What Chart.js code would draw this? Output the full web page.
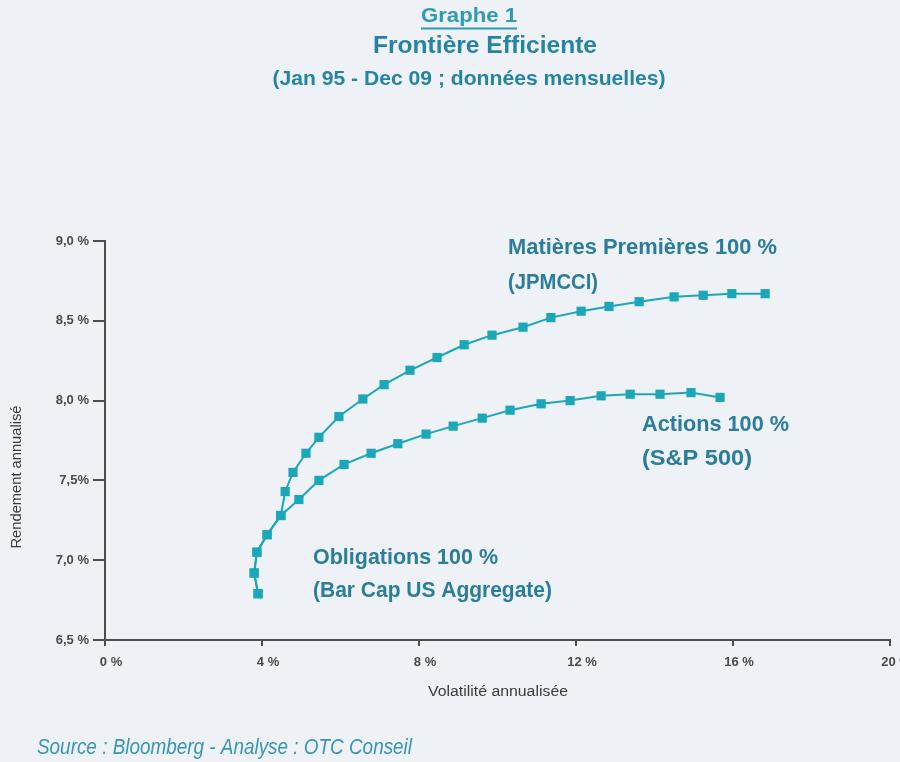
<!DOCTYPE html>
<html lang="fr">
<head>
<meta charset="utf-8">
<title>Frontière Efficiente</title>
<script src="https://cdn.jsdelivr.net/npm/chart.js@4.4.1/dist/chart.umd.min.js"></script>
<style>
  html, body { margin: 0; padding: 0; background: #eef1f5; }
  #wrap { width: 900px; height: 762px; position: relative; }
</style>
</head>
<body>
<div id="wrap"><canvas id="chart" width="900" height="762"></canvas></div>
<script>
// Commodities-weighted frontier (ends at 100 % JPMCCI)
const commoVol = [3.90, 3.80, 3.87, 4.13, 4.48, 4.59, 4.79, 5.12, 5.45, 5.96, 6.57, 7.11, 7.77, 8.46, 9.15, 9.86, 10.65, 11.36, 12.13, 12.84, 13.61, 14.50, 15.24, 15.97, 16.82];
const commoRet = [6.79, 6.92, 7.05, 7.16, 7.28, 7.43, 7.55, 7.67, 7.77, 7.90, 8.01, 8.10, 8.19, 8.27, 8.35, 8.41, 8.46, 8.52, 8.56, 8.59, 8.62, 8.65, 8.66, 8.67, 8.67];

// Equities-weighted frontier (ends at 100 % S&P 500)
const equityVol = [3.90, 3.80, 3.87, 4.13, 4.48, 4.94, 5.45, 6.09, 6.78, 7.46, 8.18, 8.87, 9.61, 10.32, 11.11, 11.85, 12.64, 13.38, 14.14, 14.93, 15.67];
const equityRet = [6.79, 6.92, 7.05, 7.16, 7.28, 7.38, 7.50, 7.60, 7.67, 7.73, 7.79, 7.84, 7.89, 7.94, 7.98, 8.00, 8.03, 8.04, 8.04, 8.05, 8.02];

// Axis tick labels
const xTickLabels = ['0 %', '4 %', '8 %', '12 %', '16 %', '20 %'];
const yTickLabels = ['6,5 %', '7,0 %', '7,5%', '8,0 %', '8,5 %', '9,0 %'];

// Texts
const titleLines = ['Graphe 1', 'Frontière Efficiente', '(Jan 95 - Dec 09 ; données mensuelles)'];
const commoLabel = ['Matières Premières 100 %', '(JPMCCI)'];
const equityLabel = ['Actions 100 %', '(S&P 500)'];
const bondLabel = ['Obligations 100 %', '(Bar Cap US Aggregate)'];
const xTitle = 'Volatilité annualisée';
const yTitle = 'Rendement annualisé';
const sourceText = 'Source : Bloomberg - Analyse : OTC Conseil';

const FONT = "'Liberation Sans Narrow', 'Arial Narrow', 'Liberation Sans', Arial, sans-serif";
const SANS = "'Liberation Sans', Arial, sans-serif";
const TEAL = '#1ba7b8';
const AXIS = '#4d4d4d';

const toPoints = (xs, ys) => xs.map((x, i) => ({ x: x, y: ys[i] }));

// Draws text squeezed horizontally so it spans the given width
function fitText(ctx, text, x, y, width, align) {
  const w = ctx.measureText(text).width;
  ctx.save();
  ctx.translate(x, y);
  ctx.scale(width / w, 1);
  ctx.textAlign = align;
  ctx.fillText(text, 0, 0);
  ctx.restore();
}

const backdrop = {
  id: 'backdrop',
  beforeDraw(chart) {
    const ctx = chart.ctx;
    ctx.save();
    ctx.fillStyle = '#eef1f5';
    ctx.fillRect(0, 0, chart.width, chart.height);
    ctx.restore();
  }
};

const texts = {
  id: 'texts',
  afterDraw(chart) {
    const ctx = chart.ctx;
    ctx.save();
    ctx.textBaseline = 'middle';

    // Heading block
    ctx.fillStyle = '#2f9ab8';
    ctx.font = 'bold 21px ' + SANS;
    fitText(ctx, titleLines[0], 469, 16, 96, 'center');
    ctx.strokeStyle = '#2f9ab8';
    ctx.lineWidth = 2;
    ctx.beginPath();
    ctx.moveTo(421, 28.5);
    ctx.lineTo(517, 28.5);
    ctx.stroke();

    ctx.fillStyle = '#2584a4';
    ctx.font = 'bold 23px ' + SANS;
    fitText(ctx, titleLines[1], 485, 47, 224, 'center');
    ctx.font = 'bold 21px ' + SANS;
    fitText(ctx, titleLines[2], 469, 79, 393, 'center');

    // Series end labels
    ctx.fillStyle = '#2a7d9b';
    ctx.font = 'bold 22px ' + SANS;
    fitText(ctx, commoLabel[0], 508, 248, 269, 'left');
    fitText(ctx, commoLabel[1], 508, 283, 90, 'left');
    fitText(ctx, equityLabel[0], 642, 425, 147, 'left');
    fitText(ctx, equityLabel[1], 642, 459, 110, 'left');
    fitText(ctx, bondLabel[0], 313, 558, 185, 'left');
    fitText(ctx, bondLabel[1], 313, 591, 239, 'left');

    // Axis titles
    ctx.fillStyle = '#3a3a3a';
    ctx.font = '14px ' + SANS;
    fitText(ctx, xTitle, 498, 692, 140, 'center');
    ctx.save();
    ctx.translate(17, 477);
    ctx.rotate(-Math.PI / 2);
    fitText(ctx, yTitle, 0, 0, 143, 'center');
    ctx.restore();

    // Source line
    ctx.fillStyle = '#3596b8';
    ctx.font = 'italic 22px ' + SANS;
    fitText(ctx, sourceText, 37, 748, 375, 'left');

    ctx.restore();
  }
};

const seriesStyle = {
  showLine: true,
  borderColor: TEAL,
  borderWidth: 2,
  backgroundColor: TEAL,
  pointBackgroundColor: TEAL,
  pointBorderColor: TEAL,
  pointStyle: 'rect',
  pointRadius: 6.5,
  pointBorderWidth: 0,
  tension: 0
};

new Chart(document.getElementById('chart'), {
  type: 'scatter',
  data: {
    datasets: [
      Object.assign({ label: commoLabel[0], data: toPoints(commoVol, commoRet) }, seriesStyle),
      Object.assign({ label: equityLabel[0], data: toPoints(equityVol, equityRet) }, seriesStyle)
    ]
  },
  options: {
    responsive: false,
    animation: false,
    layout: { padding: { top: 241, right: 10, left: 0, bottom: 0 } },
    plugins: {
      legend: { display: false },
      title: { display: false },
      tooltip: { enabled: false }
    },
    scales: {
      x: {
        type: 'linear',
        min: 0,
        max: 20,
        afterFit(scale) { scale.height = 122; scale.paddingRight = 0; scale.paddingLeft = 0; },
        border: { display: true, color: AXIS, width: 2 },
        grid: { drawOnChartArea: false, drawTicks: true, tickLength: 6, color: AXIS, lineWidth: 2 },
        ticks: {
          stepSize: 4,
          padding: 9,
          labelOffset: 6,
          color: '#4a4a4a',
          font: { family: FONT, size: 13, weight: 'bold' },
          callback: (v, i) => xTickLabels[i]
        }
      },
      y: {
        type: 'linear',
        min: 6.5,
        max: 9.0,
        afterFit(scale) { scale.width = 105; scale.paddingTop = 0; scale.paddingBottom = 0; },
        border: { display: true, color: AXIS, width: 2 },
        grid: { drawOnChartArea: false, drawTicks: true, tickLength: 12, color: AXIS, lineWidth: 2 },
        ticks: {
          stepSize: 0.5,
          padding: 4,
          color: '#4a4a4a',
          font: { family: FONT, size: 13, weight: 'bold' },
          callback: (v, i) => yTickLabels[i]
        }
      }
    }
  },
  plugins: [backdrop, texts]
});
</script>
</body>
</html>
